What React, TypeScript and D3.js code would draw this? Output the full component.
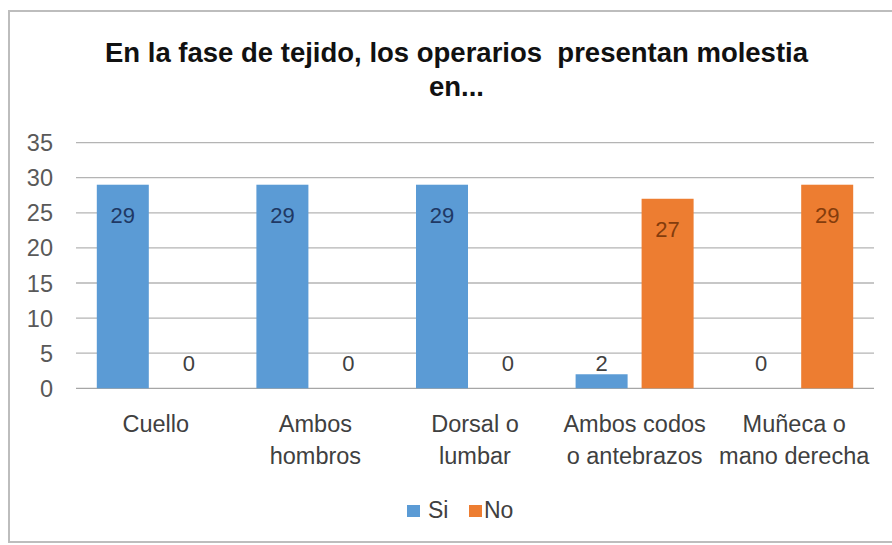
import React from "react";
import * as d3 from "d3";

const categories: string[][] = [
  ["Cuello"],
  ["Ambos", "hombros"],
  ["Dorsal o", "lumbar"],
  ["Ambos codos", "o antebrazos"],
  ["Muñeca o", "mano derecha"],
];
const seriesNames = ["Si", "No"];
const siValues = [29, 29, 29, 2, 0];
const noValues = [0, 0, 0, 27, 29];
const yTicks = [0, 5, 10, 15, 20, 25, 30, 35];
const titleLines = ["En la fase de tejido, los operarios  presentan molestia", "en..."];

const colors = ["#5B9BD5", "#ED7D31"];
const labelColors = ["#1F3864", "#843C0C"];
const FONT = "'Liberation Sans', Arial, sans-serif";

export default function App() {
  const W = 892, H = 545;
  const left = 76, right = 874, y0 = 388.3, yTop = 142.6;
  const y = d3.scaleLinear().domain([0, 35]).range([y0, yTop]);
  const catIdx = categories.map((_, i) => String(i));
  const x = d3.scaleBand().domain(catIdx).range([left, right]).padding(0);
  const outer = 20.8;
  const xs = d3.scaleBand().domain(seriesNames).range([outer, x.bandwidth() - outer]).paddingInner(0.212).paddingOuter(0);
  const series = [siValues, noValues];

  return (
    <svg width={W} height={H} style={{ position: "absolute", left: 0, top: 0, background: "#fff" }} fontFamily={FONT}>
      <rect x={9} y={11} width={W} height={531} fill="#fff" stroke="#bdbdbd" strokeWidth={2} />
      {titleLines.map((t, i) => (
        <text key={i} x={456.5} y={62 + i * 34} textAnchor="middle" fontWeight="bold" fontSize={27.5} fill="#111" style={{ whiteSpace: "pre" }}>
          {t}
        </text>
      ))}
      {yTicks.map((t) => (
        <g key={t}>
          <line x1={left} x2={right} y1={y(t)} y2={y(t)} stroke={t === 0 ? "#a6a6a6" : "#b4b4b4"} strokeWidth={1.3} />
          <text x={53} y={y(t) + 8.5} textAnchor="end" fontSize={23.5} fill="#595959">{t}</text>
        </g>
      ))}
      {series.map((vals, s) =>
        vals.map((v, i) => {
          const bx = (x(String(i)) as number) + (xs(seriesNames[s]) as number);
          const bw = xs.bandwidth();
          const top = y(v);
          const ly = Math.min(top + 30, y0 - 25);
          const inside = top + 30 < y0 - 25;
          return (
            <g key={`${s}-${i}`}>
              {v > 0 && <rect x={bx} y={top} width={bw} height={y0 - top} fill={colors[s]} />}
              <text x={bx + bw / 2} y={ly + 8} textAnchor="middle" fontSize={22} fill={inside ? labelColors[s] : "#404040"}>
                {v}
              </text>
            </g>
          );
        })
      )}
      {categories.map((lines, i) => (
        <text key={i} textAnchor="middle" fontSize={23.5} fill="#404040">
          {lines.map((l, j) => (
            <tspan key={j} x={(x(String(i)) as number) + x.bandwidth() / 2} y={432 + j * 31.5}>{l}</tspan>
          ))}
        </text>
      ))}
      <g>
        <rect x={407} y={505} width={13} height={12} fill={colors[0]} />
        <text x={428} y={518} fontSize={23} fill="#404040">{seriesNames[0]}</text>
        <rect x={469} y={505} width={13} height={12} fill={colors[1]} />
        <text x={484} y={518} fontSize={23} fill="#404040">{seriesNames[1]}</text>
      </g>
    </svg>
  );
}
